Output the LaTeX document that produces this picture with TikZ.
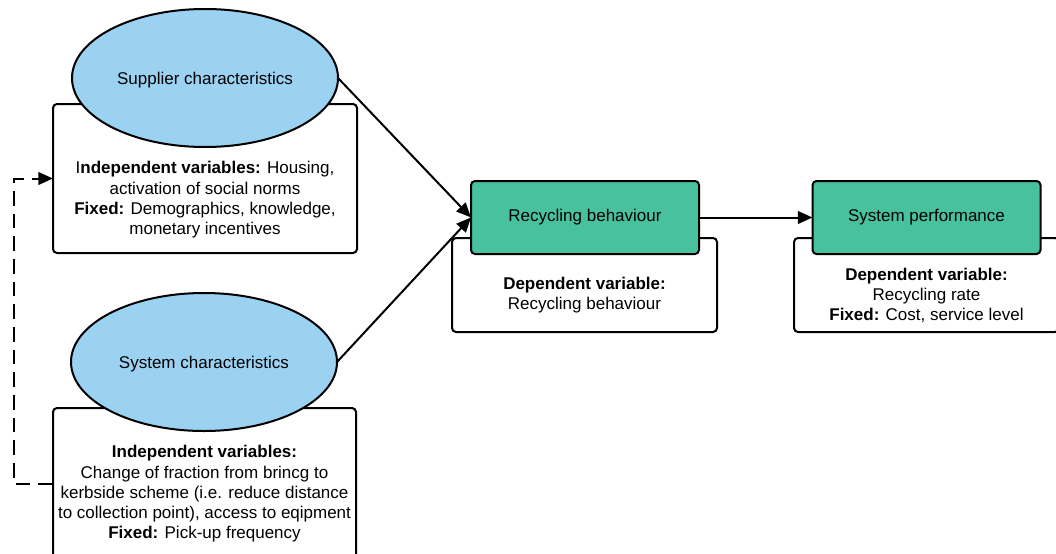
\documentclass[tikz,border=0pt]{standalone}
\usepackage{fontspec}
\setmainfont{Liberation Sans}
\usetikzlibrary{arrows.meta,shapes.geometric}
\definecolor{ellblue}{HTML}{9BD2F2}
\definecolor{boxgreen}{HTML}{48C19F}
\begin{document}
\begin{tikzpicture}[x=0.75pt,y=-0.75pt,
  every node/.style={font=\fontsize{12.75}{15.2}\selectfont, inner sep=0pt, outer sep=0pt},
  infobox/.style={draw, line width=1.5pt, fill=white, rounded corners=3pt, rectangle},
  greenbox/.style={draw, line width=1.5pt, fill=boxgreen, rounded corners=3pt, rectangle, minimum width=171pt, minimum height=54.75pt},
  ellbox/.style={draw, line width=1.5pt, fill=ellblue, ellipse, minimum width=199.5pt, minimum height=103.5pt, text depth=0pt},
  txt/.style={align=center},
  conn/.style={line width=1.5pt, -{Triangle[length=11pt,width=9.5pt]}},
  dconn/.style={line width=1.5pt, dash pattern=on 11pt off 6pt, -{Triangle[length=11pt,width=9.5pt]}}
]
\useasboundingbox (0,0) rectangle (1056,553);
\clip (0,0) rectangle (1056,553);

% lower info boxes
\node[infobox, minimum width=228pt, minimum height=111.75pt] (tb) at (205,178.5) {};
\node[infobox, minimum width=227.25pt, minimum height=114pt] (bb) at (204.5,484) {};
\node[infobox, minimum width=198.75pt, minimum height=70.5pt] (rbl) at (584.5,285) {};
\node[infobox, minimum width=198.75pt, minimum height=70.5pt] (spl) at (926.5,285) {};

% ellipses
\node[ellbox] (sup) at (205,78) {Supplier characteristics};
\node[ellbox] (sys) at (204,362) {System characteristics};

% green boxes
\node[greenbox] (rb) at (585,217.5) {Recycling behaviour};
\node[greenbox] (sp) at (926.5,217.5) {System performance};

% texts
\node[txt] (tbt) at (205,200) {I\textbf{ndependent variables:} Housing,\\activation of social norms\\\textbf{Fixed:} Demographics, knowledge,\\monetary incentives};
\node[txt] (bbt) at (204.5,494) {\textbf{Independent variables:}\\Change of fraction from brincg to\\kerbside scheme (i.e. reduce distance\\to collection point), access to eqipment\\\textbf{Fixed:} Pick-up frequency};
\node[txt] (rbt) at (584.5,295) {\textbf{Dependent variable:}\\Recycling behaviour};
\node[txt] (spt) at (926.5,295.2) {\textbf{Dependent variable:}\\Recycling rate\\\textbf{Fixed:} Cost, service level};

% connectors
\draw[conn] (sup.east) -- (rb.west);
\draw[conn] (sys.east) -- (rb.west);
\draw[conn] (rb.east) -- (sp.west);
\coordinate (dl) at (14,484);
\draw[dconn] (bb.west) -- (dl) |- (tb.west);
\end{tikzpicture}
\end{document}
